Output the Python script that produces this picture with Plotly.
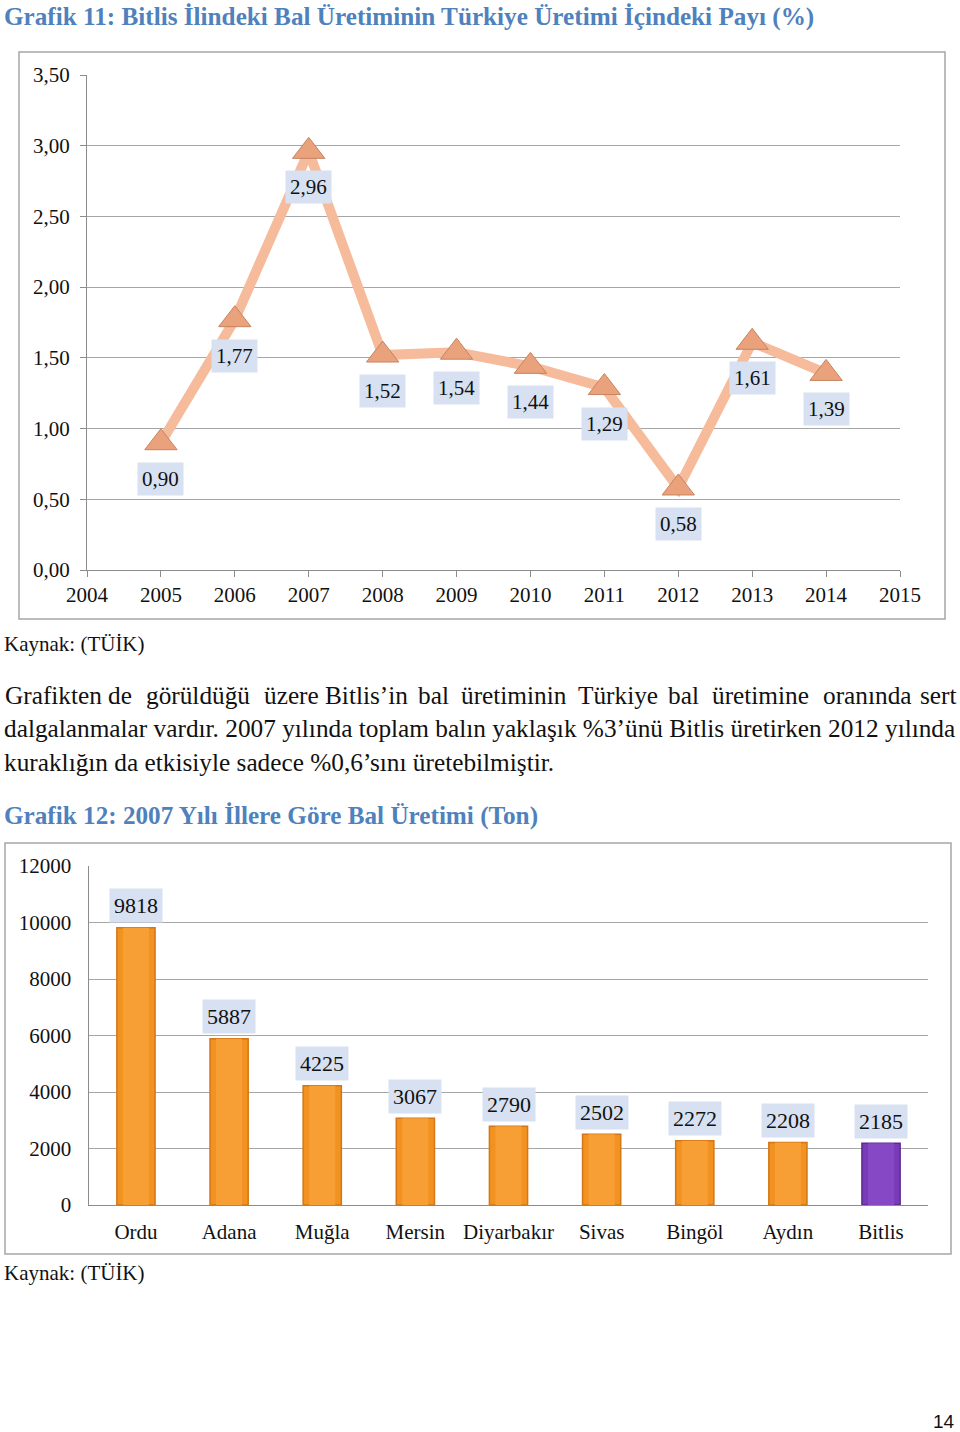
import plotly.graph_objects as go

# ---- data ----
years = [2005, 2006, 2007, 2008, 2009, 2010, 2011, 2012, 2013, 2014]
share = [0.90, 1.77, 2.96, 1.52, 1.54, 1.44, 1.29, 0.58, 1.61, 1.39]
x1_ticks = list(range(2004, 2016))
y1_ticks = [0, 0.5, 1.0, 1.5, 2.0, 2.5, 3.0, 3.5]

provinces = ["Ordu", "Adana", "Muğla", "Mersin", "Diyarbakır", "Sivas", "Bingöl", "Aydın", "Bitlis"]
production = [9818, 5887, 4225, 3067, 2790, 2502, 2272, 2208, 2185]
y2_ticks = [0, 2000, 4000, 6000, 8000, 10000, 12000]

title1 = "Grafik 11: Bitlis İlindeki Bal Üretiminin Türkiye Üretimi İçindeki Payı (%)"
title2 = "Grafik 12: 2007 Yılı İllere Göre Bal Üretimi (Ton)"
source = "Kaynak: (TÜİK)"
para_line1 = ["Grafikten", "de", "görüldüğü", "üzere", "Bitlis’in", "bal", "üretiminin",
              "Türkiye", "bal", "üretimine", "oranında", "sert"]
para_line2 = "dalgalanmalar vardır. 2007 yılında toplam balın yaklaşık %3’ünü Bitlis üretirken 2012 yılında"
para_line3 = "kuraklığın da etkisiyle sadece %0,6’sını üretebilmiştir."
page_no = "14"

W, H = 960, 1432
SERIF = "Liberation Serif, Times New Roman, serif"
def px(x):
    return x / W
def py(y):
    return 1 - y / H

fig = go.Figure()

# ---- chart 1: line ----
fig.add_trace(go.Scatter(
    x=years, y=share, mode="lines+markers",
    line=dict(color="#F6BB9A", width=10),
    marker=dict(symbol="triangle-up", size=28, color="#E9A27C",
                line=dict(color="#C7835E", width=1)),
    xaxis="x", yaxis="y", hoverinfo="skip", showlegend=False,
))

annotations = []
for xv, yv in zip(years, share):
    annotations.append(dict(
        x=xv, y=yv, xref="x", yref="y", text=f"{yv:.2f}".replace(".", ","),
        showarrow=False, yshift=-36, bgcolor="#D7E1F1", borderpad=4,
        font=dict(family=SERIF, size=21, color="#111111"),
    ))

# ---- chart 2: bars ----
n = len(provinces)
bar_colors = ["#F29221"] * (n - 1) + ["#7A3BB8"]
bar_lines = ["#D47615"] * (n - 1) + ["#5C2A90"]
hi_colors = ["#F79F34"] * (n - 1) + ["#8648C4"]
fig.add_trace(go.Bar(
    x=provinces, y=production, width=0.41,
    marker=dict(color=bar_colors, line=dict(color=bar_lines, width=1.5)),
    xaxis="x2", yaxis="y2", hoverinfo="skip", showlegend=False,
))
fig.add_trace(go.Bar(
    x=provinces, y=production, width=0.28,
    marker=dict(color=hi_colors, line=dict(width=0)),
    xaxis="x2", yaxis="y2", hoverinfo="skip", showlegend=False,
))
for cat, val in zip(provinces, production):
    annotations.append(dict(
        x=cat, y=val, xref="x2", yref="y2", text=str(val),
        showarrow=False, yshift=22, bgcolor="#D7E1F1", borderpad=4,
        font=dict(family=SERIF, size=22, color="#111111"),
    ))

# ---- page texts ----
blue = "#4F81BD"
TXT = "#111111"
annotations += [
    dict(x=px(2), y=py(17), xref="paper", yref="paper", xanchor="left", yanchor="middle",
         text=f"<b>{title1}</b>", showarrow=False, font=dict(family=SERIF, size=25.2, color=blue)),
    dict(x=px(2), y=py(816), xref="paper", yref="paper", xanchor="left", yanchor="middle",
         text=f"<b>{title2}</b>", showarrow=False, font=dict(family=SERIF, size=25.2, color=blue)),
    dict(x=px(2), y=py(644), xref="paper", yref="paper", xanchor="left", yanchor="middle",
         text=source, showarrow=False, font=dict(family=SERIF, size=21, color=TXT)),
    dict(x=px(2), y=py(1273), xref="paper", yref="paper", xanchor="left", yanchor="middle",
         text=source, showarrow=False, font=dict(family=SERIF, size=21, color=TXT)),
    dict(x=px(957), y=py(1421), xref="paper", yref="paper", xanchor="right", yanchor="middle",
         text=page_no, showarrow=False, font=dict(family="Liberation Sans, Arial, sans-serif", size=19, color=TXT)),
    dict(x=px(2), y=py(728), xref="paper", yref="paper", xanchor="left", yanchor="middle",
         text=para_line2, showarrow=False, font=dict(family=SERIF, size=25.3, color=TXT)),
    dict(x=px(2), y=py(762), xref="paper", yref="paper", xanchor="left", yanchor="middle",
         text=para_line3, showarrow=False, font=dict(family=SERIF, size=25.3, color=TXT)),
]
# justified first line: word centers
word_centers = [53, 120, 198, 291, 366, 433, 514, 618, 683, 760, 867, 938]
for wtxt, cx in zip(para_line1, word_centers):
    annotations.append(dict(x=px(cx), y=py(695), xref="paper", yref="paper",
                            xanchor="center", yanchor="middle", text=wtxt, showarrow=False,
                            font=dict(family=SERIF, size=25.3, color=TXT)))

shapes = [
    dict(type="rect", xref="paper", yref="paper", x0=px(19), x1=px(945), y0=py(619), y1=py(52),
         line=dict(color="#A6A6A6", width=1.5), layer="below"),
    dict(type="rect", xref="paper", yref="paper", x0=px(5), x1=px(951), y0=py(1254), y1=py(843),
         line=dict(color="#A6A6A6", width=1.5), layer="below"),
]

axis_font = dict(family=SERIF, size=21, color=TXT)
fig.update_layout(
    width=W, height=H, autosize=False,
    margin=dict(l=0, r=0, t=0, b=0, pad=0, autoexpand=False),
    paper_bgcolor="white", plot_bgcolor="white",
    separators=",.", barmode="overlay",
    xaxis=dict(domain=[px(87), px(900)], range=[2004, 2015], tickvals=x1_ticks,
               showgrid=False, zeroline=False, showline=True, linecolor="#8C8C8C", linewidth=1,
               ticks="outside", ticklen=6, tickcolor="#8C8C8C", tickfont=axis_font,
               ticklabelstandoff=0, anchor="y", fixedrange=True, automargin=False),
    yaxis=dict(domain=[py(570), py(75)], range=[0, 3.5], tickvals=y1_ticks, tickformat=".2f",
               showgrid=True, gridcolor="#A6A6A6", gridwidth=1, zeroline=False,
               showline=True, linecolor="#8C8C8C", linewidth=1,
               ticks="outside", ticklen=6, tickcolor="#8C8C8C", tickfont=axis_font,
               ticklabelstandoff=6, anchor="x", fixedrange=True, automargin=False),
    xaxis2=dict(domain=[px(89.4), px(927.6)], range=[-0.5, 8.5], type="category",
                showgrid=False, zeroline=False, showline=True, linecolor="#8C8C8C", linewidth=1,
                ticks="", tickfont=dict(family=SERIF, size=21, color=TXT),
                ticklabelstandoff=8, anchor="y2", fixedrange=True, automargin=False),
    yaxis2=dict(domain=[py(1205), py(866)], range=[0, 12000], tickvals=y2_ticks, tickformat="d",
                showgrid=True, gridcolor="#A6A6A6", gridwidth=1, zeroline=False,
                showline=True, linecolor="#8C8C8C", linewidth=1,
                ticks="", tickfont=dict(family=SERIF, size=21, color=TXT),
                ticklabelstandoff=13, anchor="x2", fixedrange=True, automargin=False),
    annotations=annotations,
    shapes=shapes,
)

fig.write_html("out.html", config={"displayModeBar": False},
               post_script="document.body.style.margin='0';document.body.style.overflow='hidden';")
